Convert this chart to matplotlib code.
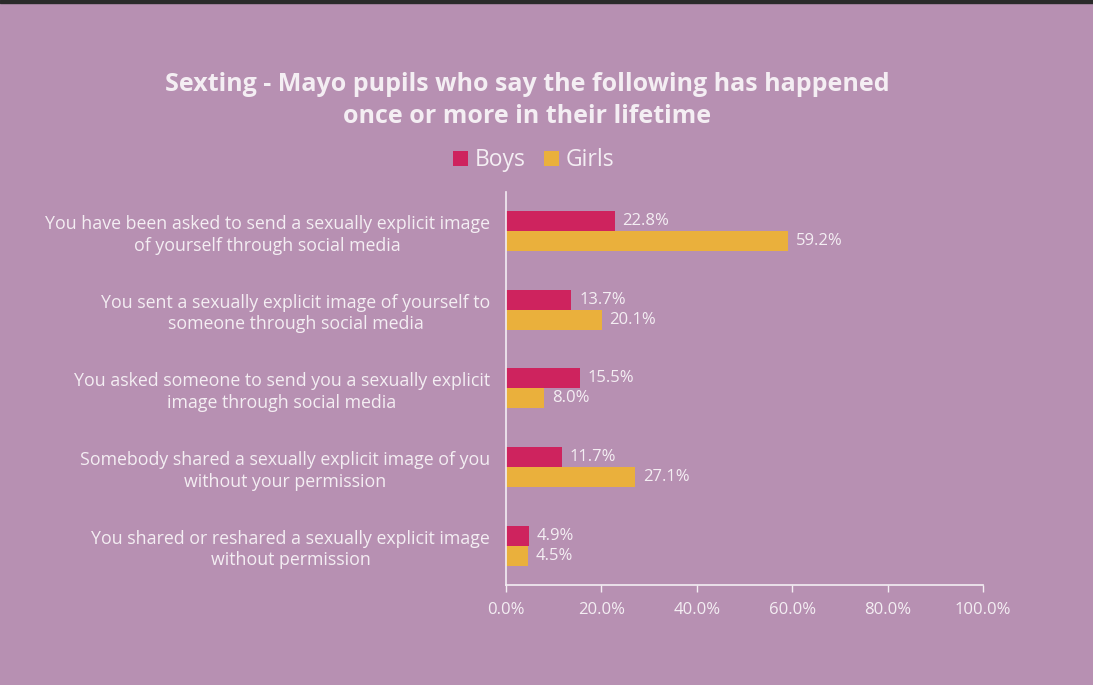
import matplotlib
matplotlib.use('Agg')
import matplotlib.pyplot as plt
import numpy as np

# Data
categories = [
    "You have been asked to send a sexually explicit image\nof yourself through social media",
    "You sent a sexually explicit image of yourself to\nsomeone through social media",
    "You asked someone to send you a sexually explicit\nimage through social media",
    "Somebody shared a sexually explicit image of you\nwithout your permission",
    "You shared or reshared a sexually explicit image\nwithout permission",
]
boys = [22.8, 13.7, 15.5, 11.7, 4.9]
girls = [59.2, 20.1, 8.0, 27.1, 4.5]
xticks = [0, 20, 40, 60, 80, 100]

BG = '#B790B2'
TXT = '#F4EEF3'
BOYS_C = '#CE235E'
GIRLS_C = '#EAB03C'

plt.rcParams['font.family'] = ['Open Sans', 'DejaVu Sans']

fig = plt.figure(figsize=(10.93, 6.85), dpi=100, facecolor=BG)
ax = fig.add_axes([0.463, 0.146, 0.4365, 0.574])
ax.set_facecolor(BG)

# dark strip at the top of the screenshot
fig.patches.append(plt.Rectangle((0, 0.995), 1, 0.005, transform=fig.transFigure,
                                 color='#2a2a2a', zorder=10))

y = np.arange(len(categories))
h = 0.255
b1 = ax.barh(y - h / 2, boys, height=h, color=BOYS_C, label='Boys')
b2 = ax.barh(y + h / 2, girls, height=h, color=GIRLS_C, label='Girls')

for bars, vals in [(b1, boys), (b2, girls)]:
    for rect, v in zip(bars, vals):
        ax.text(rect.get_width() + 1.6, rect.get_y() + rect.get_height() / 2,
                f"{v:.1f}%", va='center', ha='left', color=TXT, fontsize=12)

ax.set_ylim(len(categories) - 0.5, -0.5)
ax.set_xlim(0, 100)
ax.set_yticks(y)
ax.set_yticklabels(categories, fontsize=12.8, color=TXT, linespacing=1.25,
                   multialignment='center')
ax.tick_params(axis='y', length=0, pad=11.5)
ax.set_xticks(xticks)
ax.set_xticklabels([f"{t:.1f}%" for t in xticks], fontsize=12, color=TXT)
ax.tick_params(axis='x', length=5, color=TXT, pad=7, width=1)

for s in ['top', 'right']:
    ax.spines[s].set_visible(False)
for s in ['left', 'bottom']:
    ax.spines[s].set_color(TXT)
    ax.spines[s].set_linewidth(1.2)

fig.text(0.482, 0.853, "Sexting - Mayo pupils who say the following has happened\nonce or more in their lifetime",
         ha='center', va='center', fontsize=18, fontweight='bold', color=TXT, linespacing=1.38)

leg = fig.legend(handles=[b1, b2], labels=['Boys', 'Girls'], loc='center',
                 bbox_to_anchor=(0.488, 0.766), ncol=2, frameon=False,
                 fontsize=16.5, handlelength=0.65, handleheight=0.65, handletextpad=0.3,
                 columnspacing=0.8)
for t in leg.get_texts():
    t.set_color(TXT)

fig.savefig('out.png', dpi=100, facecolor=BG)
